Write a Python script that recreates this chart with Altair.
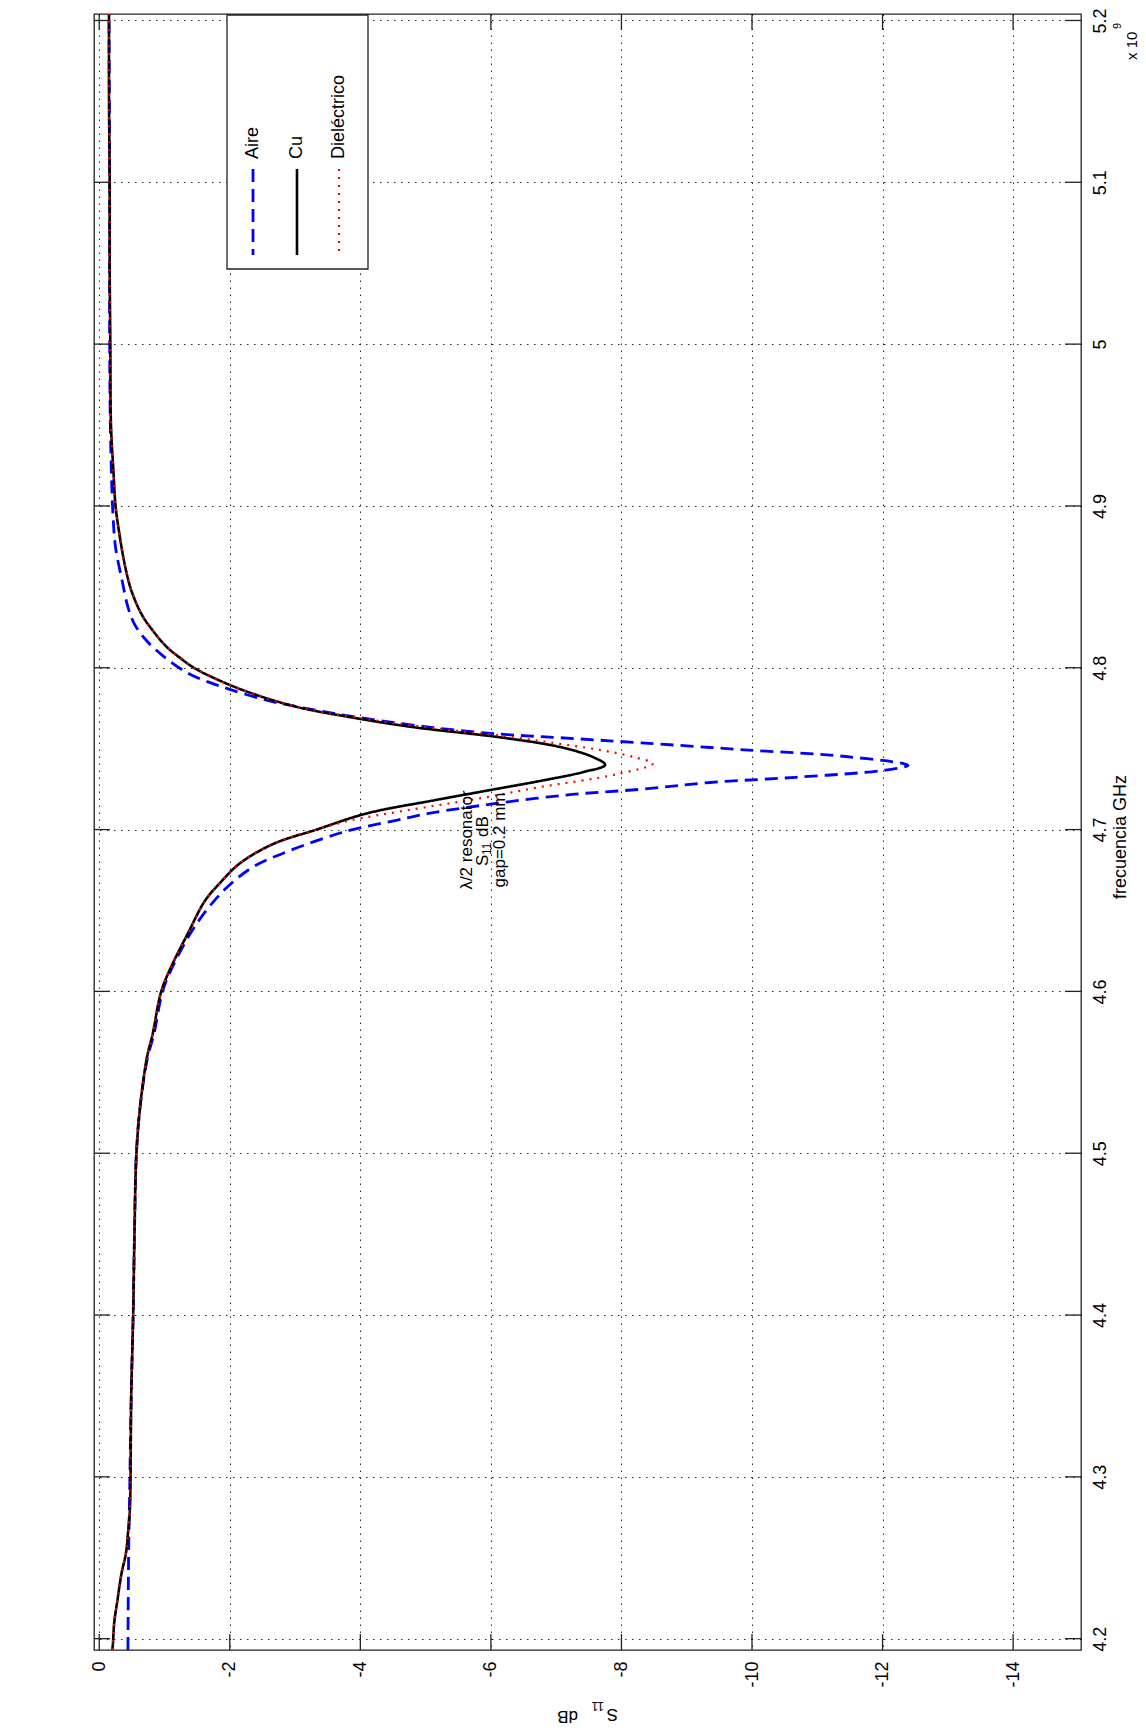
import altair as alt
import pandas as pd

# S11 traces of the half-wave resonator: frequency in GHz, S11 in dB
freq_aire = [4.193, 4.25, 4.30, 4.35, 4.40, 4.45, 4.50, 4.53, 4.559, 4.574, 4.60, 4.615,
             4.636, 4.650, 4.664, 4.677, 4.687, 4.699, 4.7057, 4.710, 4.716, 4.7217,
             4.7249, 4.7291, 4.7323, 4.7365, 4.7397, 4.745, 4.7493, 4.7536, 4.7568,
             4.759, 4.7633, 4.7695, 4.7756, 4.780, 4.788, 4.796, 4.8066, 4.817, 4.827,
             4.8375, 4.854, 4.8745, 4.895, 4.916, 4.950, 5.000, 5.100, 5.204]
s11_aire = [-0.44, -0.45, -0.47, -0.49, -0.52, -0.54, -0.57, -0.63, -0.74, -0.84, -0.97, -1.12,
            -1.40, -1.64, -1.95, -2.36, -2.92, -3.79, -4.55, -5.05, -6.05, -7.24,
            -8.30, -9.36, -10.67, -11.99, -12.39, -11.47, -9.88, -8.30, -7.05,
            -6.14, -5.05, -3.94, -3.07, -2.56, -1.90, -1.39, -1.00, -0.72, -0.54,
            -0.44, -0.35, -0.25, -0.21, -0.19, -0.17, -0.16, -0.16, -0.15]

freq_cu = [4.193, 4.197, 4.21, 4.224, 4.24, 4.253, 4.265, 4.28, 4.30, 4.35, 4.40, 4.45,
           4.50, 4.53, 4.559, 4.574, 4.60, 4.615, 4.636, 4.656, 4.667, 4.679, 4.691,
           4.700, 4.710, 4.718, 4.724, 4.730, 4.7355, 4.740, 4.7447, 4.751, 4.757,
           4.7633, 4.7695, 4.7756, 4.784, 4.792, 4.800, 4.807, 4.813, 4.823, 4.833,
           4.848, 4.864, 4.885, 4.900, 4.920, 4.950, 5.000, 5.050, 5.100, 5.150, 5.204]
s11_cu = [-0.20, -0.21, -0.23, -0.28, -0.34, -0.41, -0.44, -0.47, -0.48, -0.49, -0.52, -0.54,
          -0.57, -0.63, -0.73, -0.82, -0.95, -1.10, -1.36, -1.62, -1.85, -2.15, -2.66,
          -3.33, -4.10, -5.12, -5.93, -6.75, -7.41, -7.75, -7.57, -7.06, -6.14,
          -4.81, -3.84, -3.05, -2.35, -1.85, -1.45, -1.21, -1.03, -0.82, -0.65,
          -0.49, -0.39, -0.30, -0.25, -0.22, -0.18, -0.17, -0.16, -0.16, -0.15, -0.15]

freq_diel = [4.193, 4.197, 4.21, 4.224, 4.24, 4.253, 4.265, 4.28, 4.30, 4.35, 4.40, 4.45,
             4.50, 4.53, 4.559, 4.574, 4.60, 4.615, 4.636, 4.656, 4.667, 4.679, 4.691,
             4.700, 4.7057, 4.7118, 4.7197, 4.7259, 4.7342, 4.7408, 4.7447, 4.749,
             4.753, 4.757, 4.7633, 4.7695, 4.7756, 4.784, 4.792, 4.800, 4.807, 4.813,
             4.823, 4.833, 4.848, 4.864, 4.885, 4.900, 4.920, 4.950, 5.000, 5.050,
             5.100, 5.150, 5.204]
s11_diel = [-0.20, -0.21, -0.23, -0.28, -0.34, -0.41, -0.44, -0.47, -0.48, -0.49, -0.52, -0.54,
            -0.57, -0.63, -0.73, -0.82, -0.95, -1.10, -1.36, -1.62, -1.85, -2.15, -2.66,
            -3.33, -3.85, -4.70, -5.89, -6.70, -7.93, -8.48, -8.20, -7.70,
            -7.05, -6.35, -5.00, -3.90, -3.05, -2.35, -1.85, -1.45, -1.21, -1.03,
            -0.82, -0.65, -0.49, -0.39, -0.30, -0.25, -0.22, -0.18, -0.17, -0.16,
            -0.16, -0.15, -0.15]

series_names = ["Aire", "Cu", "Dieléctrico"]
series_colors = ["#0000FF", "#000000", "#FF0000"]
series_dash = [[13, 7], [1, 0], [2, 6]]
series_width = [2.8, 2.6, 2.2]

db_ticks = [0, -2, -4, -6, -8, -10, -12, -14]
freq_ticks = [4.2, 4.3, 4.4, 4.5, 4.6, 4.7, 4.8, 4.9, 5.0, 5.1, 5.2]

FONT = "Liberation Sans"
W, H = 987, 1636
TICK = 16
AX = "#222222"

x_scale = alt.Scale(domain=[0.08, -15.04], nice=False, zero=False)
y_scale = alt.Scale(domain=[4.193, 5.204], nice=False, zero=False)

x_axis = alt.Axis(values=db_ticks, labelExpr="'' + datum.value", labelAngle=270,
                  labelAlign="right", labelBaseline="middle", labelPadding=11,
                  labelFlush=False, labelOverlap=False, ticks=False, tickSize=0,
                  domain=False, grid=True, title=None)
y_axis = alt.Axis(orient="right", values=freq_ticks, labelExpr="'' + datum.value",
                  labelAngle=270, labelAlign="center", labelBaseline="top", labelPadding=10,
                  labelFlush=False, labelOverlap=False, ticks=False, tickSize=0,
                  domain=False, grid=True, title=None)

traces = [
    pd.DataFrame({"freq": freq_aire, "s11": s11_aire}),
    pd.DataFrame({"freq": freq_cu, "s11": s11_cu}),
    pd.DataFrame({"freq": freq_diel, "s11": s11_diel}),
]

layers = []
for i, df in enumerate(traces):
    layers.append(
        alt.Chart(df).mark_line(
            color=series_colors[i], strokeDash=series_dash[i],
            strokeWidth=series_width[i], clip=True, interpolate="catmull-rom"
        ).encode(
            x=alt.X("s11:Q", scale=x_scale, axis=x_axis),
            y=alt.Y("freq:Q", scale=y_scale, axis=y_axis),
            order="freq:Q",
        )
    )

# inward tick marks on all four sides
db_df = pd.DataFrame({"s11": db_ticks})
fr_df = pd.DataFrame({"freq": freq_ticks})
tick_style = dict(color=AX, strokeWidth=1.3)
ticks = [
    alt.Chart(db_df).mark_rule(**tick_style).encode(
        x=alt.X("s11:Q", scale=x_scale, axis=x_axis), y=alt.value(H), y2=alt.value(H - TICK)),
    alt.Chart(db_df).mark_rule(**tick_style).encode(
        x=alt.X("s11:Q", scale=x_scale, axis=x_axis), y=alt.value(0), y2=alt.value(TICK)),
    alt.Chart(fr_df).mark_rule(**tick_style).encode(
        y=alt.Y("freq:Q", scale=y_scale, axis=y_axis), x=alt.value(0), x2=alt.value(TICK)),
    alt.Chart(fr_df).mark_rule(**tick_style).encode(
        y=alt.Y("freq:Q", scale=y_scale, axis=y_axis), x=alt.value(W), x2=alt.value(W - TICK)),
]


def label(txt, x, y, size, angle, align="center", baseline="middle"):
    return alt.Chart(pd.DataFrame({"t": [txt]})).mark_text(
        angle=angle, align=align, baseline=baseline, fontSize=size,
        font=FONT, color="black"
    ).encode(x=alt.value(x), y=alt.value(y), text="t:N")


# legend box
leg_left, leg_right, leg_top, leg_bottom = 133, 274, 1, 255
legend = [
    alt.Chart(pd.DataFrame({"a": [0]})).mark_rect(
        fill="white", stroke=AX, strokeWidth=1.3
    ).encode(x=alt.value(leg_left), x2=alt.value(leg_right),
             y=alt.value(leg_top), y2=alt.value(leg_bottom))
]
leg_x = [159, 203, 245]
for i, name in enumerate(series_names):
    legend.append(
        alt.Chart(pd.DataFrame({"a": [0]})).mark_rule(
            color=series_colors[i], strokeDash=series_dash[i], strokeWidth=series_width[i]
        ).encode(x=alt.value(leg_x[i]), y=alt.value(155), y2=alt.value(241))
    )
    legend.append(label(name, leg_x[i], 145, 18, 270, align="left"))

# title block and axis titles
texts = [
    label("λ/2 resonator", 373, 826, 17, 270),
    label("S", 389, 852, 17, 270, align="left"),
    label("11", 393, 841, 12, 270, align="left"),
    label("dB", 389, 823, 17, 270, align="left"),
    label("gap=0.2 mm", 406, 826, 17, 270),
    label("frecuencia GHz", 1027, 823, 18, 270),
    label("x 10", 1038, 46, 15, 270, align="left"),
    label("9", 1024, 12, 11, 270),
    label("S", 524, 1700, 17, 180, align="left"),
    label("11", 510, 1692, 12, 180, align="left"),
    label("dB", 484, 1702, 17, 180, align="left"),
]

chart = alt.layer(*layers, *ticks, *legend, *texts).properties(
    width=W, height=H,
    autosize=alt.AutoSizeParams(type="none"),
    padding={"left": 94, "top": 14, "right": 65, "bottom": 82},
    background="white",
).configure_view(
    stroke=AX, strokeWidth=1.3
).configure_axis(
    labelFont=FONT, labelFontSize=18, labelColor="black",
    gridColor="#000000", gridDash=[1.5, 5.5], gridWidth=1, gridOpacity=0.85,
)

chart.save("out.html", embed_options={"renderer": "svg", "actions": False})
